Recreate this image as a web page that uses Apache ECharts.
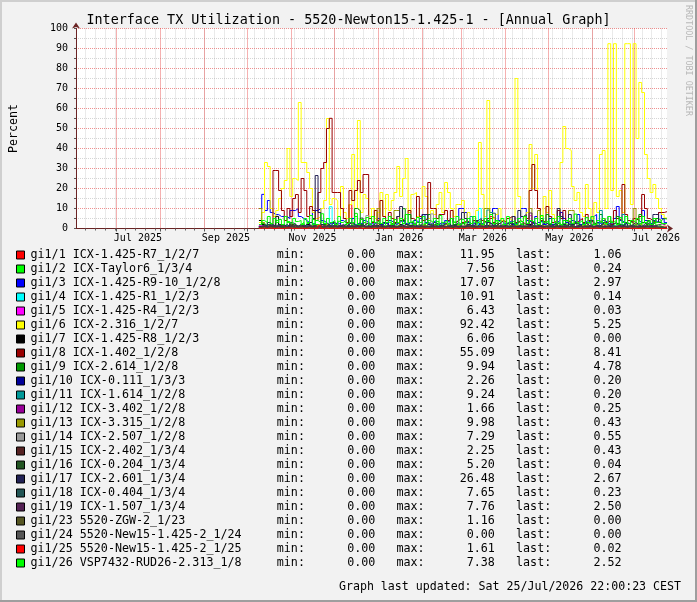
<!DOCTYPE html>
<html>
<head>
<meta charset="utf-8">
<title>Interface TX Utilization - Annual Graph</title>
<script src="https://cdn.jsdelivr.net/npm/echarts@6/dist/echarts.min.js"></script>
<style>
  html, body { margin: 0; padding: 0; background: #f2f2f2; }
  #chart { width: 697px; height: 602px; }
</style>
</head>
<body>
<div id="chart"></div>
<script>
// ports, legend colours and the min / max / last columns of the legend
const portNames = [
  "gi1/1 ICX-1.425-R7_1/2/7", "gi1/2 ICX-Taylor6_1/3/4", "gi1/3 ICX-1.425-R9-10_1/2/8",
  "gi1/4 ICX-1.425-R1_1/2/3", "gi1/5 ICX-1.425-R4_1/2/3", "gi1/6 ICX-2.316_1/2/7",
  "gi1/7 ICX-1.425-R8_1/2/3", "gi1/8 ICX-1.402_1/2/8", "gi1/9 ICX-2.614_1/2/8",
  "gi1/10 ICX-0.111_1/3/3", "gi1/11 ICX-1.614_1/2/8", "gi1/12 ICX-3.402_1/2/8",
  "gi1/13 ICX-3.315_1/2/8", "gi1/14 ICX-2.507_1/2/8", "gi1/15 ICX-2.402_1/3/4",
  "gi1/16 ICX-0.204_1/3/4", "gi1/17 ICX-2.601_1/3/4", "gi1/18 ICX-0.404_1/3/4",
  "gi1/19 ICX-1.507_1/3/4", "gi1/23 5520-ZGW-2_1/23", "gi1/24 5520-New15-1.425-2_1/24",
  "gi1/25 5520-New15-1.425-2_1/25", "gi1/26 VSP7432-RUD26-2.313_1/8"
];
const portColors = [
  "#ff0000", "#00ff00", "#0000ff", "#00ffff", "#ff00ff", "#ffff00", "#000000", "#990000",
  "#009900", "#000099", "#009999", "#990099", "#999900", "#999999", "#552222", "#225522",
  "#222255", "#225555", "#552255", "#555522", "#555555", "#ff0000", "#00ff00"
];
const statMin = [0, 0, 0, 0, 0, 0, 0, 0, 0, 0, 0, 0, 0, 0, 0, 0, 0, 0, 0, 0, 0, 0, 0];
const statMax = [11.95, 7.56, 17.07, 10.91, 6.43, 92.42, 6.06, 55.09, 9.94, 2.26, 9.24, 1.66,
  9.98, 7.29, 2.25, 5.20, 26.48, 7.65, 7.76, 1.16, 0.00, 1.61, 7.38];
const statLast = [1.06, 0.24, 2.97, 0.14, 0.03, 5.25, 0.00, 8.41, 4.78, 0.20, 0.20, 0.25,
  0.43, 0.55, 0.43, 0.04, 2.67, 0.23, 2.50, 0.00, 0.00, 0.02, 2.52];
const monthLabels = ["Jul 2025", "Sep 2025", "Nov 2025", "Jan 2026", "Mar 2026", "May 2026", "Jul 2026"];

// percent values, one per ~2 days from 9 Oct 2025 to the end of the graph
const gi1_1 = [
  0.3,0.5,0.4,1,0.6,0.3,0.8,0.4,0.5,1.2,0.3,0.6,0.4,0.8,0.4,
  0.6,0.3,0.5,1,0.4,0.6,0.3,0.9,0.5,0.4,0.7,0.3,0.6,0.4,0.8,
  0.4,0.6,11.95,0.5,0.3,0.7,0.4,1.1,0.4,0.6,0.3,0.7,0.4,0.5,0.9,
  0.4,0.6,0.3,0.8,0.4,0.6,0.3,0.7,0.5,0.4,0.8,0.4,0.6,0.3,0.5,
  0.7,0.4,0.6,0.3,0.7,0.4,0.8,0.4,0.5,0.6,0.3,0.6,0.4,0.7,0.4,
  0.5,0.7,0.3,0.6,0.4,0.8,0.4,6,5,0.6,0.4,0.6,0.3,0.7,0.5,
  0.4,0.7,0.4,0.6,0.3,0.6,0.5,0.4,0.8,0.4,0.6,0.3,0.7,0.5,0.4,
  0.6,0.4,0.7,0.3,0.6,0.5,0.4,0.7,0.4,0.6,0.3,0.6,0.5,0.7,0.4,
  0.6,0.4,0.7,0.3,0.5,0.6,0.4,0.7,0.4,0.6,0.3,0.7,0.5,0.4,0.6,
  0.4,0.7,0.3,0.6,0.5,0.4,0.7,0.9,1.2,1.06
];
const gi1_2 = [
  1,2.5,1.5,3,1.2,2,4,1.5,2.2,1,3.5,1.8,2.6,1.2,2,
  3,1.4,2.5,1.1,4.5,2,1.6,3.2,1.3,2.4,1,2.8,1.7,3.6,1.5,
  2.2,1.2,3,1.8,7.56,2.4,1.3,2.9,1.6,2.1,3.4,1.2,2.5,1.9,2.8,
  1.4,3.1,2,1.5,2.7,1.1,3.8,2.2,1.6,2.4,1.3,3,1.8,2.5,1.2,
  2.9,1.7,2.3,3.5,1.4,2.1,1.8,2.7,1.2,3.3,2,1.5,2.6,1.9,2.4,
  1.3,3.2,1.8,2.2,1.5,2.9,1.1,2.6,1.9,3.7,1.4,2.3,1.7,2.8,1.2,
  2.5,1.6,3.1,2,1.3,2.4,1.8,2.9,1.5,2.2,3.4,1.2,2.7,1.9,2.3,
  1.6,2.8,1.3,2.4,2,3.3,1.5,2.6,1.8,2.1,1.4,3,2.2,1.7,2.5,
  1.2,2.9,1.9,2.3,1.6,3.6,1.4,2.5,2,1.8,2.7,1.3,3.1,1.7,2.4,
  1.5,2.8,1.9,2.2,1.3,3,1.8,1.2,0.8,0.24
];
const gi1_3 = [
  10,17.07,9,14,8,7,7,6,6,6,5,9,9,10,6,
  5,4,3,3,9,9,10,4,3,2,3,2,3,2,4,
  3,2,3,5,2,3,2,4,3,2,3,2,5,2,3,
  2,4,3,2,3,4,3,2,3,2,4,3,5,7,3,
  2,3,4,2,3,2,4,3,5,3,4,10,10,8,3,
  2,3,4,2,3,5,3,2,10,10,4,3,2,3,4,
  2,3,5,10,10,4,3,2,6,3,4,2,3,5,2,
  3,4,8,5,3,2,4,3,7,2,3,4,3,6,7,
  3,2,4,3,2,3,5,11,4,3,2,4,3,5,4,
  3,9,4,3,2,4,3,8,5,2.97
];
const gi1_4 = [
  0.5,1,0.8,1.5,0.6,1.2,0.9,0.7,1.3,0.5,1,0.8,1.4,0.6,1.1,
  0.9,0.7,1.2,0.5,1.6,0.8,1,0.6,1.3,0.9,10.91,1.2,0.7,1,0.5,
  1.4,0.8,1.1,0.6,1.3,0.9,0.7,1.5,0.8,1,0.6,1.2,0.9,0.7,1.1,
  0.8,1.3,0.6,1,0.9,1.4,0.7,1.1,0.5,1.2,0.8,1,0.6,1.3,0.9,
  0.7,1.1,0.8,1.4,0.6,1,0.9,1.2,0.7,1.5,0.8,1,0.6,1.3,0.9,
  1.1,0.7,1.2,10,1,0.6,1.4,0.9,1.1,0.7,1.3,0.8,1,0.6,1.2,
  0.9,0.7,1.3,0.8,1.1,0.6,1,0.9,1.4,0.7,1.2,0.8,1,0.6,1.3,
  0.9,1.1,0.7,0.8,1.2,0.8,1,0.6,1.3,0.9,0.7,1.1,0.8,1.4,0.6,
  1,0.9,1.2,0.7,1.1,0.8,1.3,0.6,1,0.9,1.2,0.7,1.4,0.8,1,
  0.6,1.1,0.9,1.3,0.7,1,0.8,0.5,0.3,0.14
];
const gi1_5 = [
  1.5,0.5,0.8,0.3,0.6,0.4,0.7,0.3,0.5,0.8,0.4,0.6,0.3,0.5,0.7,
  0.4,0.6,0.3,0.8,0.5,0.4,0.7,0.3,0.6,0.5,0.4,0.8,0.3,0.6,0.4,
  0.5,0.7,0.3,0.6,0.4,0.5,0.8,0.3,0.6,0.4,0.7,0.5,0.3,0.6,0.4,
  0.8,0.3,0.5,0.6,0.4,0.7,0.3,0.5,0.6,0.4,0.8,0.3,0.5,0.7,0.4,
  0.6,0.3,0.5,0.4,0.7,0.3,0.6,0.5,0.4,0.8,0.3,0.6,0.4,0.5,0.7,
  0.3,0.6,0.4,0.5,0.8,0.3,0.6,0.4,0.7,0.5,0.3,0.6,0.4,0.5,0.8,
  0.4,0.6,0.3,0.5,0.7,0.4,6.43,0.5,0.3,0.6,0.4,0.7,0.5,0.3,0.6,
  0.5,0.4,0.7,0.3,0.6,0.5,0.4,0.8,0.3,0.6,0.4,0.5,0.7,0.3,0.6,
  0.4,0.5,0.8,0.3,0.6,0.4,0.7,0.5,0.3,0.6,0.4,0.5,0.7,0.3,0.6,
  0.4,0.5,0.3,0.6,0.4,0.5,0.3,0.2,0.1,0.03
];
const gi1_6 = [
  3,8,33,31,10,6,9,15,20,24,40,16,25,24,63,
  33,33,28,20,8,5,6,10,14,55,12,15,14,6,21,
  8,5,12,37,10,54,8,17,15,6,10,5,8,18,6,
  17,9,14,18,31,16,25,35,8,17,18,6,10,21,16,
  5,9,7,12,18,8,23,18,10,6,12,12,14,5,8,
  6,4,9,43,17,6,64,8,5,7,10,4,3,5,4,
  6,75,16,6,5,8,42,20,37,10,6,16,8,19,7,
  5,9,33,51,40,39,21,14,18,8,6,22,10,5,13,
  8,37,39,10,92.4,19,92.4,16,19,8,92.4,92.4,12,92.4,45,
  73,68,37,25,18,22,15,10,7,5.25
];
const gi1_7 = [
  4,2,1,0.5,1,1.5,6.06,2,1,0.5,1,2,1,0.5,1.5,
  1,0.5,2,1,0.5,1,1.5,0.5,1,2,1,0.5,1,1.5,0.5,
  1,0.5,1.5,1,0.5,2,1,0.5,1,1.5,0.5,1,2,1,0.5,
  1,1.5,0.5,1,0.5,2,1,0.5,1.5,1,0.5,1,0.5,1.5,1,
  0.5,1,2,0.5,1,1.5,0.5,1,0.5,2,1,0.5,1,1.5,0.5,
  1,0.5,1.5,1,0.5,1,2,0.5,1,1.5,0.5,1,0.5,1,2,
  0.5,1,1.5,0.5,1,0.5,2,1,0.5,1,1.5,0.5,1,0.5,1,
  2,0.5,1,1.5,0.5,1,0.5,1,2,0.5,1,1.5,0.5,1,0.5,
  1,2,0.5,1,1.5,0.5,1,0.5,1,2,0.5,1,1.5,0.5,1,
  0.5,1,2,0.5,1,1.5,0.5,1,0.5,0
];
const gi1_8 = [
  0,0,0,0,2,29,29,19,9,4,10,6,15,17,8,
  25,19,6,11,9,4,18,30,33,50,55.09,18,18,18,10,
  5,3,19,14,19,24,18,27,27,5,3,9,4,14,6,
  4,8,5,3,6,4,5,7,9,5,4,16,6,4,5,
  23,10,10,5,7,7,9,4,9,3,4,5,3,4,3,
  2,4,3,2,4,3,5,5,3,2,3,4,3,5,6,
  6,3,4,3,2,5,19,32,19,10,4,3,11,6,3,
  4,9,5,9,4,3,2,3,4,5,3,7,4,3,2,
  4,3,5,3,4,2,9,5,4,22,7,4,3,5,4,
  6,17,10,5,4,3,5,8,8,8.41
];
const gi1_9 = [
  1,0,1,2,1,0,1,1,2,1,0,1,2,1,1,
  2,1,0,1,2,1,1,0,2,1,1,2,1,0,1,
  2,1,1,2,10,9,2,1,0,1,2,1,1,2,1,
  1,2,3,1,2,4,9.94,2,7,3,1,2,1,2,3,
  7,2,1,2,1,3,2,1,5,2,1,2,3,1,2,
  1,2,3,2,1,2,4,1,2,3,1,2,1,2,3,
  2,1,2,3,1,2,4,3,1,2,5,3,7,2,1,
  2,3,1,2,4,2,1,3,2,1,2,3,1,2,3,
  2,7,3,2,1,2,3,6,2,1,3,2,1,2,3,
  7,3,2,4,2,3,5,4,5,4.78
];
const gi1_10 = [
  0.5,0.8,0.4,1,0.6,0.3,0.9,0.5,0.7,0.4,1.2,0.6,0.3,0.8,0.5,
  0.7,0.4,0.9,0.6,2.26,0.5,0.8,0.3,0.6,1,0.4,0.7,0.5,0.9,0.3,
  0.6,0.8,0.4,1.1,0.5,0.7,0.3,0.9,0.6,0.4,0.8,0.5,1,0.3,0.7,
  0.5,0.9,0.4,0.6,1.2,0.3,0.8,0.5,0.7,0.4,1,0.6,0.3,0.9,0.5,
  0.7,0.4,0.8,0.6,0.3,1.1,0.5,0.7,0.4,0.9,0.6,0.3,0.8,0.5,1,
  0.4,0.7,0.5,0.9,0.3,0.6,1.2,0.4,0.8,0.5,0.7,0.3,0.9,0.6,0.4,
  0.8,0.5,1,0.3,0.7,0.4,0.9,0.6,0.3,0.8,0.5,1.1,0.4,0.7,0.5,
  0.9,0.3,0.6,0.8,0.4,1,0.5,0.7,0.3,0.9,0.6,0.4,0.8,0.5,1.2,
  0.3,0.7,0.5,0.9,0.4,0.6,1,0.3,0.8,0.5,0.7,0.4,0.9,0.6,0.3,
  0.8,0.5,1,0.4,0.7,0.3,0.6,0.4,0.3,0.2
];
const gi1_11 = [
  1,0.5,1.5,0.8,2,1,0.6,1.2,0.8,1.5,0.5,1,2,0.7,1.2,
  0.8,1.5,0.6,1,2.5,0.8,1.2,0.5,1,1.8,0.7,1.2,0.5,1.5,0.8,
  1,0.6,1.4,0.8,2,1,0.5,1.2,0.8,1.6,0.6,1,0.8,1.4,0.5,
  1.2,0.8,1.5,0.6,1,2,0.8,1.2,0.5,1,1.5,0.7,1.2,0.8,1,
  0.6,1.4,0.8,1,2.2,0.7,1.2,0.5,1,1.5,0.8,1.2,0.6,1,1.8,
  6,0.8,1.2,1,1.5,0.6,9.24,8,1,0.7,1.4,0.8,1.2,0.5,1,
  1.6,0.8,1.2,0.6,1,2,0.8,1.2,0.5,1.5,0.8,1,1.4,0.6,1.2,
  0.8,1.5,0.6,1,1.2,0.8,2,0.7,1,1.4,0.6,1.2,0.8,1,1.5,
  0.7,9,1.2,0.8,1,1.6,0.6,1.2,0.8,7,1,0.6,1.4,0.8,1.2,
  0.6,1,1.5,0.8,1.2,0.6,1,0.5,0.3,0.2
];
const gi1_12 = [
  0.5,0.8,0.3,1,0.6,0.4,0.9,0.5,0.7,0.3,0.8,0.6,0.4,1.1,0.5,
  0.7,0.3,0.9,0.5,0.6,1,0.4,0.8,0.3,0.7,0.5,0.9,0.4,0.6,1.66,
  0.3,0.8,0.5,0.7,0.4,1,0.6,0.3,0.9,0.5,0.7,0.4,0.8,0.6,0.3,
  1,0.5,0.7,0.4,0.9,0.3,0.6,0.8,0.5,1.2,0.4,0.7,0.3,0.9,0.6,
  0.4,0.8,0.5,0.7,0.3,1,0.6,0.4,0.8,0.5,0.9,0.3,0.7,0.6,0.4,
  0.9,0.5,0.3,0.8,0.6,1.1,0.4,0.7,0.5,0.3,0.9,0.6,0.4,0.8,0.5,
  0.7,0.3,1,0.6,0.4,0.8,0.5,0.9,0.3,0.7,0.6,0.4,1.2,0.5,0.8,
  0.3,0.7,0.5,0.9,0.4,0.6,1,0.3,0.8,0.5,0.7,0.4,0.9,0.6,0.3,
  0.8,0.5,1,0.4,0.7,0.3,0.9,0.6,0.4,0.8,0.5,1.1,0.3,0.7,0.6,
  0.4,0.9,0.5,0.7,0.3,0.8,0.6,0.4,0.3,0.25
];
const gi1_13 = [
  9.98,3,1,2,1.5,0.8,1.2,2,1,0.6,1.5,1,2,0.8,1.2,
  1.8,1,0.6,1.4,2,1,0.7,1.5,1,2.2,0.8,1.2,1,1.6,0.7,
  1.2,2,0.8,1.4,1,1.8,0.6,1.2,2.5,1,0.8,1.5,10,1.2,0.8,
  1.5,1,2,9,9,1.2,0.8,1.6,1,2,0.7,1.3,1,1.8,0.8,
  1.2,2,1,0.7,1.5,1,2.2,0.8,1.2,1,1.8,0.6,1.4,2,1,
  0.8,1.5,1,2,1.2,10,10,1,0.7,1.5,1,2,0.8,1.2,1.6,
  1,2,0.8,1.4,1,1.8,10,1.2,0.8,9,1.5,1,2,0.7,1.2,
  1,1.6,0.8,1.2,2,9,9,1,0.7,1.5,1,2,0.8,1.2,1.6,
  1,0.8,2,1.2,1.5,0.8,1,1.8,0.6,1.2,1,1.5,0.8,10,1.2,
  2,1,1.5,0.8,1.2,1,0.8,0.6,0.5,0.43
];
const gi1_14 = [
  1,0.5,1.2,0.8,0.6,1,0.7,1.3,0.5,0.9,1.1,0.6,0.8,1.2,0.5,
  0.9,0.7,1.1,0.5,1,0.8,1.3,0.6,0.9,0.7,1.2,0.5,1,0.8,0.6,
  1.1,0.7,0.9,1.3,0.5,1,0.8,0.6,6.5,1.2,0.7,0.9,0.5,1.1,0.8,
  0.6,1,0.8,1.2,0.5,0.9,0.7,1.1,0.6,1,0.8,1.3,0.5,0.9,0.7,
  1,7.29,0.6,0.8,1.2,0.5,0.9,0.7,1.1,0.6,1,0.8,1.2,0.5,0.9,
  0.7,1.1,0.6,1,0.8,1.3,0.5,0.9,0.7,1.1,0.6,1,0.8,1.2,0.5,
  0.9,0.7,1.1,0.6,1,0.8,1.3,0.5,0.9,0.7,1.1,0.6,1,0.8,1.2,
  0.5,0.9,0.7,1.1,0.6,1,0.8,1.2,0.5,0.9,0.7,1.1,0.6,1,0.8,
  1.3,0.5,0.9,0.7,1.1,0.6,1,0.8,1.2,0.5,0.9,0.7,1.1,0.6,1,
  0.8,1.2,0.5,0.9,0.7,1.1,0.6,0.8,0.6,0.55
];
const gi1_15 = [
  0.8,1.2,0.6,1,1.4,0.7,1.1,0.9,1.3,0.6,1,2.25,0.8,1.2,0.7,
  1,0.8,1.3,0.6,1.1,0.9,1.4,0.7,1,1.2,0.6,0.9,1.3,0.8,1.1,
  0.7,1.2,0.9,1,1.4,0.6,1.1,0.8,1.3,0.7,1,1.2,0.9,0.6,1.1,
  1.3,0.8,1,0.7,1.2,0.9,1.4,0.6,1,1.1,0.8,1.3,0.7,1,0.9,
  1.2,0.6,1.1,0.8,1.3,1,0.7,1.2,0.9,1.4,0.6,1,0.8,1.1,1.3,
  0.7,1,0.9,1.2,0.6,1.1,0.8,1.4,1,0.7,1.2,0.9,1.3,0.6,1,
  1.1,0.8,1.3,0.7,1,1.2,0.9,0.6,1.4,1,0.8,1.1,0.7,1.3,0.9,
  1,1.2,0.6,1.1,0.8,1.3,0.7,1,1.4,0.9,1.2,0.6,1,0.8,1.1,
  1.3,0.7,1,0.9,1.2,0.6,1.1,0.8,1.4,1,0.7,1.2,0.9,1,0.6,
  1.1,0.8,1.3,0.7,1,0.9,0.6,0.8,0.5,0.43
];
const gi1_16 = [
  0.5,1,0.7,1.5,0.6,1.2,0.8,2,0.5,1,0.9,1.4,0.6,1.1,0.8,
  1.3,0.5,1,0.8,1.6,0.7,1.2,0.5,1,2,0.6,1.1,0.9,1.4,0.5,
  1,0.7,1.3,0.6,1.1,0.8,5.2,1,0.5,1.2,0.7,1.5,0.8,1,0.6,
  1.4,0.7,1,0.9,1.2,0.5,1.1,0.8,1.6,0.6,1,0.9,1.3,0.5,1.1,
  0.8,1.2,0.6,1,1.5,0.7,1.1,0.9,0.5,1.3,0.8,1,0.6,1.2,0.9,
  1.4,0.5,1.1,0.8,1,0.6,1.3,0.9,1.2,0.5,1,0.8,1.5,0.7,1.1,
  0.6,1.2,0.9,1,0.5,1.4,0.8,1.1,0.7,1.3,0.6,1,0.9,1.2,0.5,
  1.1,0.8,1.4,0.6,1,0.9,1.2,0.5,1.3,0.7,1,0.8,1.1,0.6,1.4,
  0.9,1,0.5,1.2,0.8,1.3,0.6,1.1,0.9,1,0.5,1.4,0.7,1.2,0.8,
  1,0.6,1.3,0.9,0.7,0.5,0.3,0.2,0.1,0.04
];
const gi1_17 = [
  1,2,1,3,2,1,2,1,1,2,1,3,2,1,2,
  1,2,1,3,5,26.48,8,2,1,2,1,3,2,1,2,
  1,2,3,2,1,2,1,2,3,1,2,1,2,1,3,
  2,1,2,3,6,11,4,2,1,2,3,1,2,7,7,
  2,1,3,2,1,2,3,2,1,2,3,2,8,5,2,
  1,2,4,5,2,1,3,2,1,2,3,1,2,3,2,
  6,2,9,6,7,2,1,3,2,1,2,3,2,1,2,
  3,10,6,2,1,7,2,3,1,2,3,2,1,4,2,
  1,2,3,2,1,2,3,2,1,2,3,1,2,3,2,
  1,2,3,2,1,7,7,3,2,2.67
];
const gi1_18 = [
  1,1.5,0.8,2,1.2,0.6,1.4,1,1.8,0.7,1.2,0.9,1.6,0.8,1.1,
  1.5,0.7,1.2,1,2,0.8,1.3,0.6,1.1,1.7,0.9,1.4,0.7,1.2,1,
  0.8,1.6,1.1,0.7,1.3,0.9,1.5,0.6,1.2,1,1.8,0.8,1.1,1.4,0.7,
  1.2,0.9,1.5,0.8,1.1,1.6,0.7,1.3,1,0.8,1.4,1.1,0.6,1.2,0.9,
  1.5,0.8,1.2,1,1.7,0.7,1.1,1.4,0.9,1.2,0.6,1.3,1,1.6,0.8,
  1.1,1.4,0.7,1.2,1,1.5,0.8,1.3,7.65,1.1,0.9,1.6,0.7,1.2,1,
  1.4,0.8,1.1,1.5,0.9,1.2,0.7,1.6,1,1.3,0.8,1.1,1.4,0.9,1.2,
  0.7,1.5,1,1.2,0.8,1.4,1.1,0.9,1.6,0.7,1.2,1,1.3,0.8,1.5,
  1.1,0.9,1.4,0.7,6,1.2,1,1.5,0.8,1.3,1.1,0.9,1.6,0.7,1.2,
  1,1.4,0.8,1.2,0.9,1.1,0.7,0.5,0.3,0.23
];
const gi1_19 = [
  1,1.2,0.8,1.5,1,1.3,0.9,1.1,1.4,0.8,1.2,1,1.5,0.9,1.1,
  1.3,0.8,1.2,1,1.4,0.9,1.1,1.3,0.8,1.2,1,1.5,0.9,1.1,1.3,
  0.8,1.2,1,1.4,0.9,1.1,1.3,0.8,1.2,1,1.5,0.9,1.1,1.3,0.8,
  1.2,1,1.4,0.9,1.1,1.3,0.8,1.2,1,1.5,0.9,1.1,1.3,0.8,1.2,
  1,1.4,0.9,1.1,1.3,0.8,1.2,1,1.5,0.9,1.1,1.3,0.8,1.2,1,
  1.4,0.9,1.1,1.3,0.8,1.2,1,1.5,0.9,1.1,1.3,0.8,1.2,1,1.4,
  0.9,1.1,1.3,0.8,1.2,1,7.76,0.9,1.1,1.3,0.8,1.2,1,1.4,0.9,
  1.1,1.3,0.8,1.2,1,1.5,0.9,1.1,1.3,0.8,1.2,1,1.4,0.9,1.1,
  1.3,0.8,1.2,1,1.5,0.9,1.1,1.3,0.8,1.2,1,1.4,0.9,1.1,1.3,
  0.8,1.2,1,1.5,1.1,1.3,1.8,2.2,2.4,2.5
];
const gi1_23 = [
  0.4,0.6,0.3,0.8,0.5,0.7,0.3,0.6,0.9,0.4,0.5,0.7,0.3,0.6,0.8,
  0.5,0.3,0.7,0.4,0.6,1.16,0.5,0.3,0.8,0.6,0.4,0.7,0.5,0.3,0.6,
  0.8,0.4,0.6,0.3,0.7,0.5,0.9,0.4,0.6,0.3,0.8,0.5,0.7,0.4,0.6,
  0.3,0.7,0.5,0.8,0.4,0.6,0.3,0.9,0.5,0.7,0.4,0.6,0.3,0.8,0.5,
  0.6,0.4,0.7,0.3,0.8,0.5,0.6,0.4,0.9,0.3,0.7,0.5,0.6,0.4,0.8,
  0.5,0.3,0.7,0.6,0.4,0.8,0.5,0.3,0.6,0.9,0.4,0.7,0.5,0.3,0.6,
  0.8,0.5,0.4,0.7,0.3,0.6,0.9,0.5,0.4,0.7,0.3,0.6,0.8,0.5,0.4,
  0.7,0.3,0.6,0.5,0.8,0.4,0.7,0.3,0.6,0.9,0.5,0.4,0.7,0.3,0.6,
  0.5,0.8,0.4,0.6,0.3,0.7,0.5,0.9,0.4,0.6,0.3,0.8,0.5,0.7,0.4,
  0.6,0.3,0.7,0.5,0.4,0.6,0.3,0.2,0.1,0
];
const gi1_24 = [
  0,0,0,0,0,0,0,0,0,0,0,0,0,0,0,
  0,0,0,0,0,0,0,0,0,0,0,0,0,0,0,
  0,0,0,0,0,0,0,0,0,0,0,0,0,0,0,
  0,0,0,0,0,0,0,0,0,0,0,0,0,0,0,
  0,0,0,0,0,0,0,0,0,0,0,0,0,0,0,
  0,0,0,0,0,0,0,0,0,0,0,0,0,0,0,
  0,0,0,0,0,0,0,0,0,0,0,0,0,0,0,
  0,0,0,0,0,0,0,0,0,0,0,0,0,0,0,
  0,0,0,0,0,0,0,0,0,0,0,0,0,0,0,
  0,0,0,0,0,0,0,0,0,0
];
const gi1_25 = [
  0.1,0.2,0,0.3,0.1,0,0.2,0,0.1,0.2,0.3,0,0.1,0,0.2,
  0.1,0,0.3,0,0.2,0.1,1.61,0,0.2,0,0.1,0.2,0,0.3,0,
  0.2,0,0.1,0.2,0,0.3,0,0.1,0.2,0,0.1,0,0.3,0.1,0,
  0.2,0,0.1,0,0.2,0.3,0,0.1,0,0.2,0.1,0,0.3,0,0.1,
  0,0.2,0.1,0,0.2,0,0.3,0.1,0,0.2,0,0.1,0,0.2,0.3,
  0,0.1,0,0.2,0.1,0,0.3,0,0.1,0.2,0,0.2,0,0.1,0.2,
  0.3,0,0.1,0,0.2,0.1,0,0.2,0,0.3,0.1,0,0.2,0,0.1,
  0.2,0,0.2,0,0.1,0.3,0,0.1,0,0.2,0,0.1,0.2,0,0.3,
  0,0.1,0,0.2,0.1,0,0.3,0,0.1,0.2,0,0.2,0,0.1,0,
  0.1,0.2,0,0.1,0,0.2,0.1,0,0.05,0.02
];
const gi1_26 = [
  2,4,3,6,2.5,5,3,4.5,2,6,3,2.5,5,3.5,4,
  2,5,3,6.5,2,4,3,7.38,2.5,5,3,4,2,6,3,
  4,2.5,5,3,6,2,4.5,3,5.5,2,6,3,4,2.5,5,
  3,6,2,4.5,3,5,2.5,7,3,4,2,5.5,3,6,2.5,
  4,3,5,2,6.5,3,4,2.5,5,3,6,2,4.5,3,5,
  2.5,6,3,4,2,5,3.5,7,2.5,4,3,5,2,6,3,
  4,2,5,3.5,6,2.5,4,3,5,2,6.5,3,4,2.5,5,
  3,6,2,4,3.5,5,2.5,7.2,3,4,2,5.5,3,6,2,
  4,3,5,2.5,6,3,4,2,5.5,3,6,2.5,4,3,5,
  2.5,6,3,4,2,5,3,4,2.5,2.52
];

document.addEventListener("DOMContentLoaded", function () {
  const chart = echarts.init(document.getElementById("chart"));
  const FONT = "DejaVu Sans Mono";
  const DAY = 864e5;
  const axisStart = Date.UTC(2025, 5, 2, 9);
  const axisEnd = Date.UTC(2026, 6, 23, 18);
  const dataStart = Date.UTC(2025, 9, 9, 6);
  const portValues = [gi1_1, gi1_2, gi1_3, gi1_4, gi1_5, gi1_6, gi1_7, gi1_8, gi1_9, gi1_10,
    gi1_11, gi1_12, gi1_13, gi1_14, gi1_15, gi1_16, gi1_17, gi1_18, gi1_19, gi1_23, gi1_24,
    gi1_25, gi1_26];

  // grid: weeks (minor), months (major), labels every 2nd month centred in the month
  const weekTicks = [];
  for (let t = Date.UTC(2025, 5, 2); t <= axisEnd; t += 7 * DAY) weekTicks.push(t);
  const monthTicks = [];
  for (let m = 6; Date.UTC(2025, m, 1) <= axisEnd; m++) monthTicks.push(Date.UTC(2025, m, 1));
  const labelTicks = monthLabels.map((_, i) => Date.UTC(2025, 6 + 2 * i, 1) + 15 * DAY);

  const series = portValues.map(function (vals, i) {
    const step = (axisEnd - dataStart) / vals.length;
    const pts = vals.map((v, k) => [dataStart + k * step, v]);
    pts.push([axisEnd, vals[vals.length - 1]]);
    return {
      name: portNames[i],
      type: "line",
      step: "end",
      data: pts,
      symbol: "none",
      color: portColors[i],
      lineStyle: { width: 1, color: portColors[i] },
      silent: true
    };
  });

  function legendLine(name) {
    const i = portNames.indexOf(name);
    return name.padEnd(35) + "min:" + statMin[i].toFixed(2).padStart(10) +
      "   max:" + statMax[i].toFixed(2).padStart(10) +
      "   last:" + statLast[i].toFixed(2).padStart(10);
  }

  function monthText(v) {
    let best = 0;
    labelTicks.forEach((t, i) => { if (Math.abs(t - v) < Math.abs(labelTicks[best] - v)) best = i; });
    return monthLabels[best];
  }

  const option = {
    animation: false,
    backgroundColor: "#f2f2f2",
    title: {
      text: "Interface TX Utilization - 5520-Newton15-1.425-1 - [Annual Graph]",
      left: "center",
      top: 14,
      padding: 0,
      textStyle: { fontFamily: FONT, fontSize: 13.4, fontWeight: "normal", color: "#000" }
    },
    grid: {
      left: 67, top: 28.5, width: 600, height: 200,
      show: true, backgroundColor: "#ffffff", borderWidth: 0
    },
    legend: {
      orient: "vertical",
      left: 16,
      top: 248,
      padding: 0,
      itemGap: 0,
      itemWidth: 8,
      itemHeight: 8,
      icon: "rect",
      selectedMode: false,
      itemStyle: { borderColor: "#000", borderWidth: 1 },
      textStyle: { fontFamily: FONT, fontSize: 11.7, lineHeight: 14, color: "#000", padding: [0, 0, 0, 1] },
      formatter: legendLine
    },
    xAxis: [
      {
        type: "value", min: axisStart, max: axisEnd, position: "bottom",
        axisLine: {
          show: true, lineStyle: { color: "#6b2424", width: 1 },
          symbol: ["none", "arrow"], symbolSize: [6, 6], symbolOffset: [0, 6]
        },
        axisTick: { show: true, customValues: weekTicks, length: 2, lineStyle: { color: "#666" } },
        axisLabel: { show: false },
        splitLine: { show: true, lineStyle: { color: "rgba(150,150,150,0.4)", type: [1, 1] } }
      },
      {
        type: "value", min: axisStart, max: axisEnd, position: "bottom",
        axisLine: { show: false },
        axisTick: { show: true, customValues: monthTicks, length: 3, lineStyle: { color: "#555" } },
        axisLabel: {
          customValues: labelTicks,
          margin: 5,
          fontFamily: FONT, fontSize: 10, color: "#000",
          formatter: monthText
        },
        splitLine: { show: true, lineStyle: { color: "rgba(230,60,60,0.8)", type: [1, 1] } }
      }
    ],
    yAxis: {
      type: "value", min: 0, max: 100, interval: 10,
      name: "Percent", nameLocation: "middle", nameGap: 56, nameRotate: 90,
      nameTextStyle: { fontFamily: FONT, fontSize: 11.6, color: "#000" },
      axisLine: {
        show: true, lineStyle: { color: "#6b2424", width: 1 },
        symbol: ["none", "arrow"], symbolSize: [6, 6], symbolOffset: [0, 6]
      },
      axisTick: { show: true, length: 2, lineStyle: { color: "#555" } },
      minorTick: { show: true, splitNumber: 2, length: 2, lineStyle: { color: "#555" } },
      axisLabel: { fontFamily: FONT, fontSize: 10, color: "#000", margin: 8 },
      splitLine: { show: true, lineStyle: { color: "rgba(228,70,70,0.6)", type: [1, 1] } },
      minorSplitLine: { show: true, lineStyle: { color: "rgba(150,150,150,0.4)", type: [1, 1] } }
    },
    graphic: [
      { type: "rect", shape: { x: 0, y: 0, width: 697, height: 2 }, style: { fill: "#cfcfcf" }, silent: true },
      { type: "rect", shape: { x: 0, y: 0, width: 2, height: 602 }, style: { fill: "#cfcfcf" }, silent: true },
      { type: "rect", shape: { x: 695, y: 0, width: 2, height: 602 }, style: { fill: "#9e9e9e" }, silent: true },
      { type: "rect", shape: { x: 0, y: 600, width: 697, height: 2 }, style: { fill: "#9e9e9e" }, silent: true },
      {
        type: "text", x: 688, y: 5, rotation: -Math.PI / 2, silent: true,
        style: { text: "RRDTOOL / TOBI OETIKER", fill: "#b8b8b8", fontFamily: FONT, fontSize: 8.4, align: "left", verticalAlign: "middle" }
      },
      {
        type: "text", x: 681, y: 587, silent: true,
        style: { text: "Graph last updated: Sat 25/Jul/2026 22:00:23 CEST", fill: "#000", fontFamily: FONT, fontSize: 11.6, align: "right", verticalAlign: "middle" }
      }
    ],
    series: series
  };
  chart.setOption(option);
});
</script>
</body>
</html>
